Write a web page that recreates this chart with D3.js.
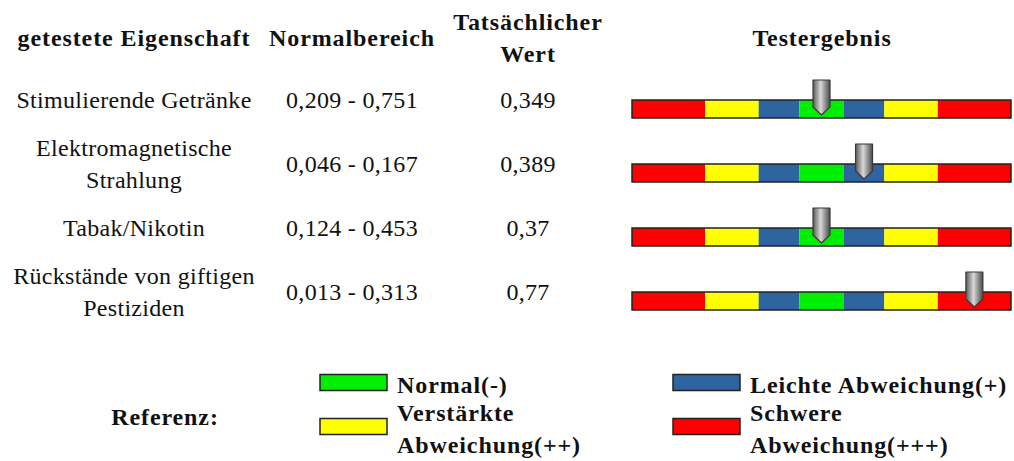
<!DOCTYPE html>
<html>
<head>
<meta charset="utf-8">
<script src="https://cdn.jsdelivr.net/npm/d3@7"></script>
<style>
  body { margin: 0; background: #fff; }
</style>
</head>
<body>
<div id="chart"></div>
<script>
// Table data
const headers = ["getestete Eigenschaft", "Normalbereich", "Tatsächlicher\nWert", "Testergebnis"];
const properties = ["Stimulierende Getränke", "Elektromagnetische\nStrahlung", "Tabak/Nikotin", "Rückstände von giftigen\nPestiziden"];
const normalRanges = ["0,209 - 0,751", "0,046 - 0,167", "0,124 - 0,453", "0,013 - 0,313"];
const actualValues = ["0,349", "0,389", "0,37", "0,77"];
// index of the scale segment the pointer sits on (0..6)
const resultLevels = [3, 4, 3, 6];

// scale segments (relative widths) and their severity
const segmentWidths = [74, 54, 41, 45, 41, 54, 74];
const segmentLevels = ["severe", "strong", "light", "normal", "light", "strong", "severe"];

// legend
const legendKeys = ["normal", "light", "strong", "severe"];
const legendLabels = ["Normal(-)", "Leichte Abweichung(+)", "Verstärkte\nAbweichung(++)", "Schwere\nAbweichung(+++)"];
const colors = { normal: "#00ee00", light: "#2e64a0", strong: "#ffff00", severe: "#ff0000" };

const width = 1014, height = 461;
const fontFamily = "'Liberation Serif'";

const svg = d3.select("#chart")
    .append("svg")
    .attr("width", width)
    .attr("height", height);

// gradient for the pointer
const grad = svg.append("defs").append("linearGradient")
    .attr("id", "pointerGrad")
    .attr("x1", "0%").attr("x2", "100%").attr("y1", "0%").attr("y2", "0%");
grad.append("stop").attr("offset", "0%").attr("stop-color", "#5a5a5a");
grad.append("stop").attr("offset", "45%").attr("stop-color", "#d8d8d8");
grad.append("stop").attr("offset", "60%").attr("stop-color", "#b0b0b0");
grad.append("stop").attr("offset", "100%").attr("stop-color", "#4a4a4a");

// column centres
const colX = [134, 352, 528, 822];

// text helper: y is the baseline of the middle of the block
const addText = (x, y, str, bold, anchor = "middle") => {
    const t = svg.append("text")
        .attr("x", x)
        .attr("text-anchor", anchor)
        .attr("font-size", 24)
        .attr("fill", "#111")
        .style("font-family", fontFamily)
        .style("font-weight", bold ? "bold" : "normal")
        .style("letter-spacing", bold ? "0.9px" : "0.3px");
    const lines = str.split("\n");
    const lineH = 31.5;
    lines.forEach((l, i) => {
        t.append("tspan")
            .attr("x", x)
            .attr("y", y - (lines.length - 1) / 2 * lineH + i * lineH)
            .text(l);
    });
    return t;
};

// Headers
headers.forEach((h, i) => addText(colX[i], 46, h, true));

// Row scale
const scaleRow = d3.scalePoint()
    .domain(properties)
    .range([109, 301]);

// Segment scale
const cumulative = [0];
segmentWidths.forEach(w => cumulative.push(cumulative[cumulative.length - 1] + w));
const scaleSeg = d3.scaleLinear()
    .domain([0, cumulative[cumulative.length - 1]])
    .range([632, 1011]);

const barH = 18;

properties.forEach((p, i) => {
    const cy = scaleRow(p);
    const ty = cy - 1;

    addText(colX[0], ty, p, false);
    addText(colX[1], ty, normalRanges[i], false);
    addText(colX[2], ty, actualValues[i], false);

    // scale bar
    const g = svg.append("g");
    g.selectAll("rect.seg")
        .data(segmentLevels)
        .enter()
        .append("rect")
        .attr("class", "seg")
        .attr("x", (d, k) => scaleSeg(cumulative[k]))
        .attr("width", (d, k) => scaleSeg(cumulative[k + 1]) - scaleSeg(cumulative[k]))
        .attr("y", cy - barH / 2)
        .attr("height", barH)
        .attr("fill", d => colors[d]);
    g.append("rect")
        .attr("x", scaleSeg(0))
        .attr("y", cy - barH / 2)
        .attr("width", scaleSeg(cumulative[cumulative.length - 1]) - scaleSeg(0))
        .attr("height", barH)
        .attr("fill", "none")
        .attr("stroke", "#222")
        .attr("stroke-width", 1.5);

    // pointer
    const lvl = resultLevels[i];
    const px = (scaleSeg(cumulative[lvl]) + scaleSeg(cumulative[lvl + 1])) / 2;
    const top = cy - barH / 2 - 20;
    const pw = 8.5;
    const shaftEnd = cy - 2;
    const tip = cy + 6;
    g.append("path")
        .attr("d", `M${px - pw},${top} L${px + pw},${top} L${px + pw},${shaftEnd} L${px},${tip} L${px - pw},${shaftEnd} Z`)
        .attr("fill", "url(#pointerGrad)")
        .attr("stroke", "#3a3a3a")
        .attr("stroke-width", 1.2)
        .attr("stroke-linejoin", "round");
});

// Legend
addText(165, 425, "Referenz:", true);

const legX = [320, 673];
const legY = [382.5, 426.5];
legendKeys.forEach((k, i) => {
    const lx = legX[i % 2];
    const ly = legY[Math.floor(i / 2)];
    svg.append("rect")
        .attr("x", lx).attr("y", ly - 8)
        .attr("width", 67).attr("height", 16)
        .attr("fill", colors[k])
        .attr("stroke", "#222")
        .attr("stroke-width", 1.5);
    addText(lx + 77, ly + 10.5, legendLabels[i], true, "start");
});
</script>
</body>
</html>
